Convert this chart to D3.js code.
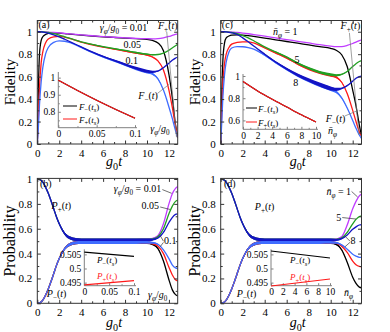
<!DOCTYPE html>
<html><head><meta charset="utf-8">
<script src="https://cdn.jsdelivr.net/npm/d3@7"></script>
<style>body{margin:0;background:#fff}svg{display:block}text{font-family:"Liberation Serif","Times New Roman",serif}</style>
</head><body><svg id="c" width="390" height="332"></svg>
<script>
// ---------- data ----------
const tTop = [0,0.1,0.2,0.35,0.5,0.75,1,1.5,2,2.5,3,4,5,6,7,8,9,10,10.5,11,11.5,12,12.3,12.6,12.8];
// panel (a): gamma_phi/g0 = 0.01, 0.05, 0.1
const aFpViolet = [1,1,1,1,0.999,0.998,0.997,0.994,0.99,0.986,0.981,0.972,0.964,0.957,0.951,0.946,0.941,0.938,0.937,0.939,0.946,0.958,0.967,0.976,0.982];
const aFmBlack  = [0,0.5,0.8,0.92,0.955,0.975,0.985,0.99,0.988,0.984,0.979,0.97,0.962,0.955,0.949,0.943,0.938,0.932,0.922,0.9,0.83,0.62,0.42,0.17,0.06];
const aFpGreen  = [1,1,1,0.999,0.998,0.996,0.993,0.983,0.97,0.955,0.94,0.91,0.888,0.868,0.85,0.833,0.815,0.8,0.795,0.797,0.81,0.835,0.855,0.875,0.888];
const aFmRed    = [0,0.25,0.5,0.72,0.82,0.9,0.935,0.955,0.958,0.952,0.938,0.908,0.884,0.863,0.845,0.827,0.81,0.792,0.775,0.74,0.66,0.48,0.33,0.16,0.06];
const aFpBlue   = [1,1,1,0.999,0.997,0.993,0.987,0.972,0.955,0.933,0.91,0.865,0.82,0.78,0.745,0.71,0.675,0.648,0.643,0.65,0.68,0.72,0.745,0.765,0.775];
const aFmLight  = [0,0.15,0.35,0.55,0.68,0.8,0.86,0.905,0.918,0.915,0.903,0.86,0.815,0.775,0.74,0.705,0.67,0.64,0.625,0.58,0.48,0.33,0.23,0.12,0.06];
const aBandMid  = [0,0,0,0,0,0,0,0,0,0,0,0.001,0.002,0.003,0.004,0.005,0.006,0.006,0.005,0.003,0.001,0,0,0,0];
const aBandHigh = [0,0,0,0,0,0,0,0,0,0,0,0.002,0.004,0.006,0.008,0.01,0.012,0.013,0.01,0.005,0.002,0,0,0,0];
// panel (c): nbar_phi = 1, 5, 8
const cFpViolet = [1,1,1,1,1,0.999,0.997,0.993,0.988,0.982,0.975,0.96,0.945,0.93,0.915,0.9,0.885,0.872,0.867,0.868,0.878,0.895,0.908,0.92,0.928];
const cFmBlack  = [0,0.45,0.75,0.9,0.945,0.962,0.97,0.972,0.97,0.965,0.958,0.943,0.928,0.913,0.898,0.882,0.867,0.852,0.835,0.795,0.69,0.48,0.34,0.17,0.07];
const cFpGreen  = [1,1,1,1,0.999,0.997,0.993,0.983,0.965,0.945,0.92,0.865,0.82,0.775,0.72,0.675,0.64,0.618,0.612,0.62,0.645,0.69,0.715,0.735,0.742];
const cFmRed    = [0,0.3,0.55,0.72,0.8,0.86,0.89,0.905,0.91,0.91,0.9,0.855,0.81,0.765,0.712,0.668,0.634,0.61,0.595,0.55,0.45,0.3,0.2,0.11,0.07];
const cFpBlue   = [1,1,1,1,0.998,0.995,0.99,0.975,0.945,0.91,0.872,0.8,0.73,0.67,0.615,0.57,0.53,0.495,0.487,0.495,0.52,0.56,0.585,0.6,0.605];
const cFmLight  = [0,0.2,0.42,0.62,0.73,0.82,0.855,0.868,0.866,0.858,0.845,0.79,0.725,0.665,0.61,0.565,0.525,0.49,0.465,0.41,0.32,0.21,0.14,0.08,0.05];
const cBandMid  = [0,0,0,0,0,0,0,0,0,0,0,0.002,0.004,0.006,0.008,0.01,0.011,0.012,0.01,0.005,0.002,0,0,0,0];
const cBandHigh = [0,0,0,0,0,0,0,0,0,0,0,0.004,0.007,0.01,0.013,0.015,0.017,0.018,0.014,0.007,0.003,0,0,0,0];

const tBot = [0,0.25,0.5,0.75,1,1.25,1.5,1.75,2,2.25,2.5,3,3.5,4,5,6,7,8,9,10,10.5,11,11.5,12,12.3,12.6,12.8];
// panel (b)
const bPpViolet = [1,0.995,0.975,0.935,0.885,0.825,0.76,0.695,0.64,0.595,0.56,0.525,0.513,0.51,0.51,0.51,0.51,0.51,0.51,0.512,0.52,0.545,0.64,0.8,0.88,0.925,0.94];
const bPpGreen  = [1,0.995,0.975,0.935,0.885,0.825,0.76,0.695,0.64,0.595,0.56,0.525,0.513,0.51,0.51,0.51,0.51,0.51,0.51,0.51,0.515,0.535,0.6,0.72,0.78,0.82,0.83];
const bPpBlue   = [1,0.995,0.975,0.935,0.885,0.825,0.76,0.695,0.64,0.595,0.56,0.525,0.513,0.51,0.51,0.51,0.51,0.51,0.51,0.51,0.512,0.525,0.57,0.65,0.69,0.715,0.72];
const bPmBlack  = [0,0.005,0.025,0.065,0.115,0.175,0.24,0.305,0.36,0.405,0.44,0.475,0.487,0.49,0.49,0.49,0.49,0.49,0.49,0.488,0.475,0.44,0.34,0.19,0.11,0.07,0.06];
const bPmRed    = [0,0.005,0.025,0.065,0.115,0.175,0.24,0.305,0.36,0.405,0.44,0.475,0.487,0.49,0.49,0.49,0.49,0.49,0.49,0.49,0.482,0.46,0.4,0.29,0.23,0.19,0.18];
const bPmLight  = [0,0.005,0.025,0.065,0.115,0.175,0.24,0.305,0.36,0.405,0.44,0.475,0.487,0.49,0.49,0.49,0.49,0.49,0.49,0.49,0.488,0.475,0.43,0.36,0.31,0.285,0.28];
// panel (d)
const dPpViolet = [1,0.995,0.975,0.935,0.885,0.825,0.76,0.695,0.64,0.595,0.56,0.525,0.513,0.51,0.51,0.51,0.51,0.51,0.51,0.51,0.515,0.535,0.63,0.76,0.82,0.865,0.88];
const dPpGreen  = [1,0.995,0.975,0.935,0.885,0.825,0.76,0.695,0.64,0.595,0.56,0.525,0.513,0.51,0.51,0.51,0.51,0.51,0.51,0.51,0.512,0.525,0.57,0.64,0.675,0.697,0.703];
const dPpBlue   = [1,0.995,0.975,0.935,0.885,0.825,0.76,0.695,0.64,0.595,0.56,0.525,0.513,0.51,0.51,0.51,0.51,0.51,0.51,0.51,0.51,0.52,0.55,0.595,0.615,0.63,0.633];
const dPmBlack  = [0,0.005,0.025,0.065,0.115,0.175,0.24,0.305,0.36,0.405,0.44,0.475,0.487,0.49,0.49,0.49,0.49,0.49,0.49,0.488,0.475,0.43,0.33,0.21,0.16,0.13,0.125];
const dPmRed    = [0,0.005,0.025,0.065,0.115,0.175,0.24,0.305,0.36,0.405,0.44,0.475,0.487,0.49,0.49,0.49,0.49,0.49,0.49,0.49,0.485,0.46,0.41,0.34,0.31,0.297,0.295];
const dPmLight  = [0,0.005,0.025,0.065,0.115,0.175,0.24,0.305,0.36,0.405,0.44,0.475,0.487,0.49,0.49,0.49,0.49,0.49,0.49,0.49,0.488,0.47,0.435,0.395,0.38,0.37,0.37];
const bBand     = [0,0,0,0,0,0,0.002,0.004,0.006,0.008,0.01,0.012,0.012,0.012,0.012,0.012,0.012,0.012,0.012,0.011,0.008,0.004,0.002,0,0,0,0];

// insets
const insAx = [0,0.025,0.05,0.075,0.1];
const insAFm = [0.985,0.925,0.868,0.814,0.762];
const insAFp = [0.985,0.925,0.868,0.814,0.762];
const insCx = [0,2,4,6,8,10];
const insCFm = [0.95,0.865,0.79,0.72,0.65,0.585];
const insCFp = [0.95,0.865,0.79,0.72,0.65,0.585];
const insBx = [0,0.1];
const insBPm = [0.5058,0.5043];
const insBPp = [0.4942,0.4957];
const insDx = [0,10];
const insDPm = [0.5062,0.5037];
const insDPp = [0.4938,0.4963];

// ticks
const xTicksMain = [0,2,4,6,8,10,12], xMinorMain = [1,3,5,7,9,11];
const yTicksMain = [0,0.2,0.4,0.6,0.8,1], yMinorMain = [0.1,0.3,0.5,0.7,0.9];

const C = {violet:'#c03cff', green:'#22a022', blue:'#1414c4', light:'#3f6cff', red:'#ff1a1a', black:'#000000'};

// ---------- helpers ----------
const svg = d3.select('#c');
svg.append('rect').attr('width',390).attr('height',332).attr('fill','#fff');

function rich(g, x, y, parts, size, o={}) {
  const t = g.append('text').attr('x',x).attr('y',y).attr('font-size',size)
    .attr('fill',o.fill||'#000').attr('text-anchor',o.anchor||'start');
  if (o.rotate) t.attr('transform',`rotate(${o.rotate},${x},${y})`);
  let shift = 0;
  parts.forEach(([s,k]) => {
    const ts = t.append('tspan').text(s);
    k = k||'';
    if (k.includes('i')) ts.attr('font-style','italic');
    if (k.includes('sub')) { const d=size*0.3; ts.attr('dy', d-shift).attr('font-size', size*0.72); shift=d; }
    else if (shift) { ts.attr('dy', -shift); shift=0; }
  });
  return t;
}

function styleAxis(sel, fs, col) {
  sel.select('.domain').remove();
  sel.attr('font-family','Liberation Serif, serif').attr('font-size',fs);
  sel.selectAll('line').attr('stroke',col);
  sel.selectAll('text').attr('fill','#000');
}

function mainAxes(g, x, y) {
  const [x0,x1]=x.range(), [yb,yt]=y.range();
  const col='#333';
  g.append('g').attr('transform',`translate(0,${yb})`).call(d3.axisBottom(x).tickValues(xTicksMain).tickSize(-3.5).tickPadding(5).tickFormat(d3.format('~g'))).call(s=>styleAxis(s,11,col));
  g.append('g').attr('transform',`translate(0,${yb})`).call(d3.axisBottom(x).tickValues(xMinorMain).tickSize(-2).tickFormat('')).call(s=>styleAxis(s,11,col));
  g.append('g').attr('transform',`translate(0,${yt})`).call(d3.axisTop(x).tickValues(xTicksMain).tickSize(-3.5).tickFormat('')).call(s=>styleAxis(s,11,col));
  g.append('g').attr('transform',`translate(0,${yt})`).call(d3.axisTop(x).tickValues(xMinorMain).tickSize(-2).tickFormat('')).call(s=>styleAxis(s,11,col));
  g.append('g').attr('transform',`translate(${x0},0)`).call(d3.axisLeft(y).tickValues(yTicksMain).tickSize(-3.5).tickPadding(5).tickFormat(d3.format('~g'))).call(s=>styleAxis(s,11,col));
  g.append('g').attr('transform',`translate(${x0},0)`).call(d3.axisLeft(y).tickValues(yMinorMain).tickSize(-2).tickFormat('')).call(s=>styleAxis(s,11,col));
  g.append('g').attr('transform',`translate(${x1},0)`).call(d3.axisRight(y).tickValues(yTicksMain).tickSize(-3.5).tickFormat('')).call(s=>styleAxis(s,11,col));
  g.append('g').attr('transform',`translate(${x1},0)`).call(d3.axisRight(y).tickValues(yMinorMain).tickSize(-2).tickFormat('')).call(s=>styleAxis(s,11,col));
  g.append('rect').attr('x',x0).attr('y',yt).attr('width',x1-x0).attr('height',yb-yt).attr('fill','none').attr('stroke',col).attr('stroke-width',1);
}

let clipN = 0;
function clipFor(x, y) {
  const id = 'clip'+(clipN++);
  svg.append('clipPath').attr('id',id).append('rect')
    .attr('x',x.range()[0]).attr('y',y.range()[1]).attr('width',x.range()[1]-x.range()[0]).attr('height',y.range()[0]-y.range()[1]);
  return `url(#${id})`;
}

function series(g, x, y, t, vals, band, color, clip, w=1.3) {
  const pts = t.map((tt,i)=>({t:tt, v:vals[i], s: band ? band[i] : 0}));
  if (band) g.append('path').datum(pts)
    .attr('d', d3.area().x(d=>x(d.t)).y0(d=>y(d.v-d.s)).y1(d=>y(d.v+d.s)).curve(d3.curveMonotoneX))
    .attr('fill',color).attr('clip-path',clip);
  g.append('path').datum(pts)
    .attr('d', d3.line().x(d=>x(d.t)).y(d=>y(d.v)).curve(d3.curveMonotoneX))
    .attr('fill','none').attr('stroke',color).attr('stroke-width',w).attr('clip-path',clip);
}

function insetAxes(g, x, y, xt, xm, yt, ym, xEnd) {
  const col='#808080';
  const [x0]=x.range(), [yb,ytop]=y.range();
  g.append('g').attr('transform',`translate(0,${yb})`).call(d3.axisBottom(x).tickValues(xt).tickSize(-2.5).tickPadding(3).tickFormat(d3.format('~g'))).call(s=>styleAxis(s,9.5,col));
  if (xm) g.append('g').attr('transform',`translate(0,${yb})`).call(d3.axisBottom(x).tickValues(xm).tickSize(-1.5).tickFormat('')).call(s=>styleAxis(s,9.5,col));
  g.append('g').attr('transform',`translate(${x0},0)`).call(d3.axisLeft(y).tickValues(yt).tickSize(-2.5).tickPadding(3).tickFormat(d3.format('~g'))).call(s=>styleAxis(s,9.5,col));
  if (ym) g.append('g').attr('transform',`translate(${x0},0)`).call(d3.axisLeft(y).tickValues(ym).tickSize(-1.5).tickFormat('')).call(s=>styleAxis(s,9.5,col));
  g.append('line').attr('x1',x0).attr('x2',xEnd).attr('y1',yb).attr('y2',yb).attr('stroke',col);
  g.append('line').attr('x1',x0).attr('x2',x0).attr('y1',yb).attr('y2',ytop).attr('stroke',col);
}

function pline(g, x, y, a, b, col='#777', w=0.7) {
  g.append('line').attr('x1',x(a[0])).attr('y1',y(a[1])).attr('x2',x(b[0])).attr('y2',y(b[1])).attr('stroke',col).attr('stroke-width',w);
}

const GAM = [['γ','i'],['φ','sub i'],['/',''],['g','i'],['0','sub']];
const NBAR = [['n\u0304','i'],['φ','sub i']];
const G0T = [['g','i'],['0','sub'],['t','i']];
const lbl = (sym, sub, arg, argsub) => {
  const p = [[sym,'i'],[sub,'sub'],['(',''],[arg,'i']];
  if (argsub) p.push([argsub,'sub i']);
  p.push([')','']);
  return p;
};

// ---------- scales ----------
const xA = d3.scaleLinear([0,12.8],[37.3,177.7]);
const xC = d3.scaleLinear([0,12.8],[220.7,361.5]);
const yTop = d3.scaleLinear([0,1.1],[144,20.5]);
const yBot = d3.scaleLinear([0,1.005],[303.3,178.4]);

// ---------- panel (a) ----------
{
  const g = svg.append('g'), x=xA, y=yTop, clip=clipFor(x,y);
  series(g,x,y,tTop,aFmBlack,null,C.black,clip);
  series(g,x,y,tTop,aFmRed,aBandMid,C.red,clip);
  series(g,x,y,tTop,aFmLight,aBandHigh,C.light,clip);
  series(g,x,y,tTop,aFpViolet,null,C.violet,clip);
  series(g,x,y,tTop,aFpGreen,aBandMid,C.green,clip);
  series(g,x,y,tTop,aFpBlue,aBandHigh,C.blue,clip);
  mainAxes(g,x,y);
  rich(g,x(0.1),y(1.035),[['(a)','']],10);
  rich(g,x(5.7),y(1.005),GAM.concat([[' = 0.01','']]),10);
  rich(g,x(7.85),y(0.855),[['0.05','']],10);
  rich(g,x(8.05),y(0.71),[['0.1','']],10);
  rich(g,x(11.0),y(1.022),lbl('F','+','t'),10);
  pline(g,x,y,[11.8,1.0],[12.69,0.06]);
  rich(g,x(9.2),y(0.4),lbl('F','−','t'),10);
  pline(g,x,y,[10.95,0.45],[12.0,0.53]);
  // inset
  const ix = d3.scaleLinear([0,0.1],[58.3,135]), iy = d3.scaleLinear([0.707,1.033],[127.7,72]);
  insetAxes(g,ix,iy,[0,0.05,0.1],[0.025,0.075],[0.8,0.9,1],[0.75,0.85,0.95],137);
  series(g,ix,iy,insAx,insAFm,null,C.black,null,1.1);
  series(g,ix,iy,insAx,insAFp,null,C.red,null,1.1);
  g.append('line').attr('x1',63).attr('x2',77).attr('y1',106).attr('y2',106).attr('stroke',C.black);
  rich(g,79,109.5,lbl('F','−','t','s'),9);
  g.append('line').attr('x1',63).attr('x2',77).attr('y1',119).attr('y2',119).attr('stroke',C.red);
  rich(g,79,122.5,lbl('F','+','t','s'),9);
  rich(g,x(10.3),y(0.11),GAM,10);
}
// ---------- panel (c) ----------
{
  const g = svg.append('g'), x=xC, y=yTop, clip=clipFor(x,y);
  series(g,x,y,tTop,cFmBlack,null,C.black,clip);
  series(g,x,y,tTop,cFmRed,cBandMid,C.red,clip);
  series(g,x,y,tTop,cFmLight,cBandHigh,C.light,clip);
  series(g,x,y,tTop,cFpViolet,null,C.violet,clip);
  series(g,x,y,tTop,cFpGreen,cBandMid,C.green,clip);
  series(g,x,y,tTop,cFpBlue,cBandHigh,C.blue,clip);
  mainAxes(g,x,y);
  rich(g,x(0.1),y(1.035),[['(c)','']],10);
  rich(g,x(4.75),y(0.97),NBAR.concat([[' = 1','']]),10);
  rich(g,x(6.7),y(0.72),[['5','']],10);
  rich(g,x(6.6),y(0.52),[['8','']],10);
  rich(g,x(10.9),y(1.022),lbl('F','+','t'),10);
  pline(g,x,y,[11.7,0.99],[12.57,0.08]);
  rich(g,x(9.55),y(0.2),lbl('F','−','t'),10);
  pline(g,x,y,[11.3,0.25],[12.5,0.3]);
  const ix = d3.scaleLinear([0,10],[243,316]), iy = d3.scaleLinear([0.52,1.018],[129.3,74]);
  insetAxes(g,ix,iy,[0,2,4,6,8,10],[1,3,5,7,9],[0.6,0.8,1],[0.7,0.9],318);
  series(g,ix,iy,insCx,insCFm,null,C.black,null,1.1);
  series(g,ix,iy,insCx,insCFp,null,C.red,null,1.1);
  g.append('line').attr('x1',246).attr('x2',257).attr('y1',108).attr('y2',108).attr('stroke',C.black);
  rich(g,258,111.5,lbl('F','−','t','s'),9);
  g.append('line').attr('x1',246).attr('x2',257).attr('y1',122).attr('y2',122).attr('stroke',C.red);
  rich(g,258,125.5,lbl('F','+','t','s'),9);
  rich(g,x(9.75),y(0.09),NBAR,10);
}
// ---------- panel (b) ----------
{
  const g = svg.append('g'), x=xA, y=yBot, clip=clipFor(x,y);
  series(g,x,y,tBot,bPpViolet,bBand,C.violet,clip);
  series(g,x,y,tBot,bPpGreen,bBand,C.green,clip);
  series(g,x,y,tBot,bPpBlue,bBand,C.blue,clip);
  series(g,x,y,tBot,bPmBlack,bBand,C.black,clip);
  series(g,x,y,tBot,bPmRed,bBand,C.red,clip);
  series(g,x,y,tBot,bPmLight,bBand,C.light,clip);
  mainAxes(g,x,y);
  rich(g,x(0.25),y(0.935),[['(b)','']],10);
  rich(g,x(1.3),y(0.76),lbl('P','+','t'),10);
  rich(g,x(0.86),y(0.05),lbl('P','−','t'),10);
  rich(g,x(11.3),y(0.895),GAM.concat([[' = 0.01','']]),10,{anchor:'end'});
  pline(g,x,y,[11.4,0.915],[12.25,0.885],'#333');
  rich(g,x(11.1),y(0.755),[['0.05','']],10,{anchor:'end'});
  pline(g,x,y,[11.2,0.775],[12.1,0.755],'#333');
  rich(g,x(11.55),y(0.478),[['0.1','']],10);
  pline(g,x,y,[11.5,0.5],[11.2,0.545],'#333');
  pline(g,x,y,[11.5,0.49],[11.2,0.455],'#333');
  const ix = d3.scaleLinear([0,0.1],[84.3,134]), iy = d3.scaleLinear([0.4939,0.5068],[285.7,249.3]);
  insetAxes(g,ix,iy,[0,0.05,0.1],[0.025,0.075],[0.495,0.5,0.505],null,136);
  series(g,ix,iy,insBx,insBPm,null,C.black,null,1.1);
  series(g,ix,iy,insBx,insBPp,null,C.red,null,1.1);
  rich(g,97,263,lbl('P','−','t','s'),9);
  rich(g,97,279,lbl('P','+','t','s'),9,{fill:C.red});
  rich(g,x(10.1),y(0.043),GAM,10);
}
// ---------- panel (d) ----------
{
  const g = svg.append('g'), x=xC, y=yBot, clip=clipFor(x,y);
  series(g,x,y,tBot,dPpViolet,bBand,C.violet,clip);
  series(g,x,y,tBot,dPpGreen,bBand,C.green,clip);
  series(g,x,y,tBot,dPpBlue,bBand,C.blue,clip);
  series(g,x,y,tBot,dPmBlack,bBand,C.black,clip);
  series(g,x,y,tBot,dPmRed,bBand,C.red,clip);
  series(g,x,y,tBot,dPmLight,bBand,C.light,clip);
  mainAxes(g,x,y);
  rich(g,x(0.3),y(0.935),[['(d)','']],10);
  rich(g,x(3.1),y(0.75),lbl('P','+','t'),10);
  rich(g,x(1.45),y(0.05),lbl('P','−','t'),10);
  rich(g,x(11.85),y(0.87),NBAR.concat([[' = 1','']]),10,{anchor:'end'});
  pline(g,x,y,[11.9,0.9],[12.45,0.855],'#333');
  rich(g,x(10.95),y(0.66),[['5','']],10,{anchor:'end'});
  pline(g,x,y,[11.05,0.69],[12.3,0.678],'#333');
  rich(g,x(11.8),y(0.478),[['8','']],10);
  pline(g,x,y,[11.75,0.5],[11.3,0.54],'#333');
  pline(g,x,y,[11.75,0.49],[11.3,0.455],'#333');
  const ix = d3.scaleLinear([0,10],[271,330]), iy = d3.scaleLinear([0.4939,0.5068],[285.7,249.3]);
  insetAxes(g,ix,iy,[0,2,4,6,8,10],null,[0.495,0.5,0.505],null,332);
  series(g,ix,iy,insDx,insDPm,null,C.black,null,1.1);
  series(g,ix,iy,insDx,insDPp,null,C.red,null,1.1);
  rich(g,290,263,lbl('P','−','t','s'),9);
  rich(g,290,280,lbl('P','+','t','s'),9,{fill:C.red});
  rich(g,x(11.2),y(0.055),NBAR,10);
}
// ---------- axis titles ----------
rich(svg,15,82,[['Fidelity','']],15,{anchor:'middle',rotate:-90});
rich(svg,200,82,[['Fidelity','']],15,{anchor:'middle',rotate:-90});
rich(svg,15,241,[['Probability','']],16,{anchor:'middle',rotate:-90});
rich(svg,200,241,[['Probability','']],16,{anchor:'middle',rotate:-90});
rich(svg,xA(7),166,G0T,14,{anchor:'middle'});
rich(svg,xC(7),166,G0T,14,{anchor:'middle'});
rich(svg,xA(7),327,G0T,14,{anchor:'middle'});
rich(svg,xC(7),327,G0T,14,{anchor:'middle'});
</script></body></html>
